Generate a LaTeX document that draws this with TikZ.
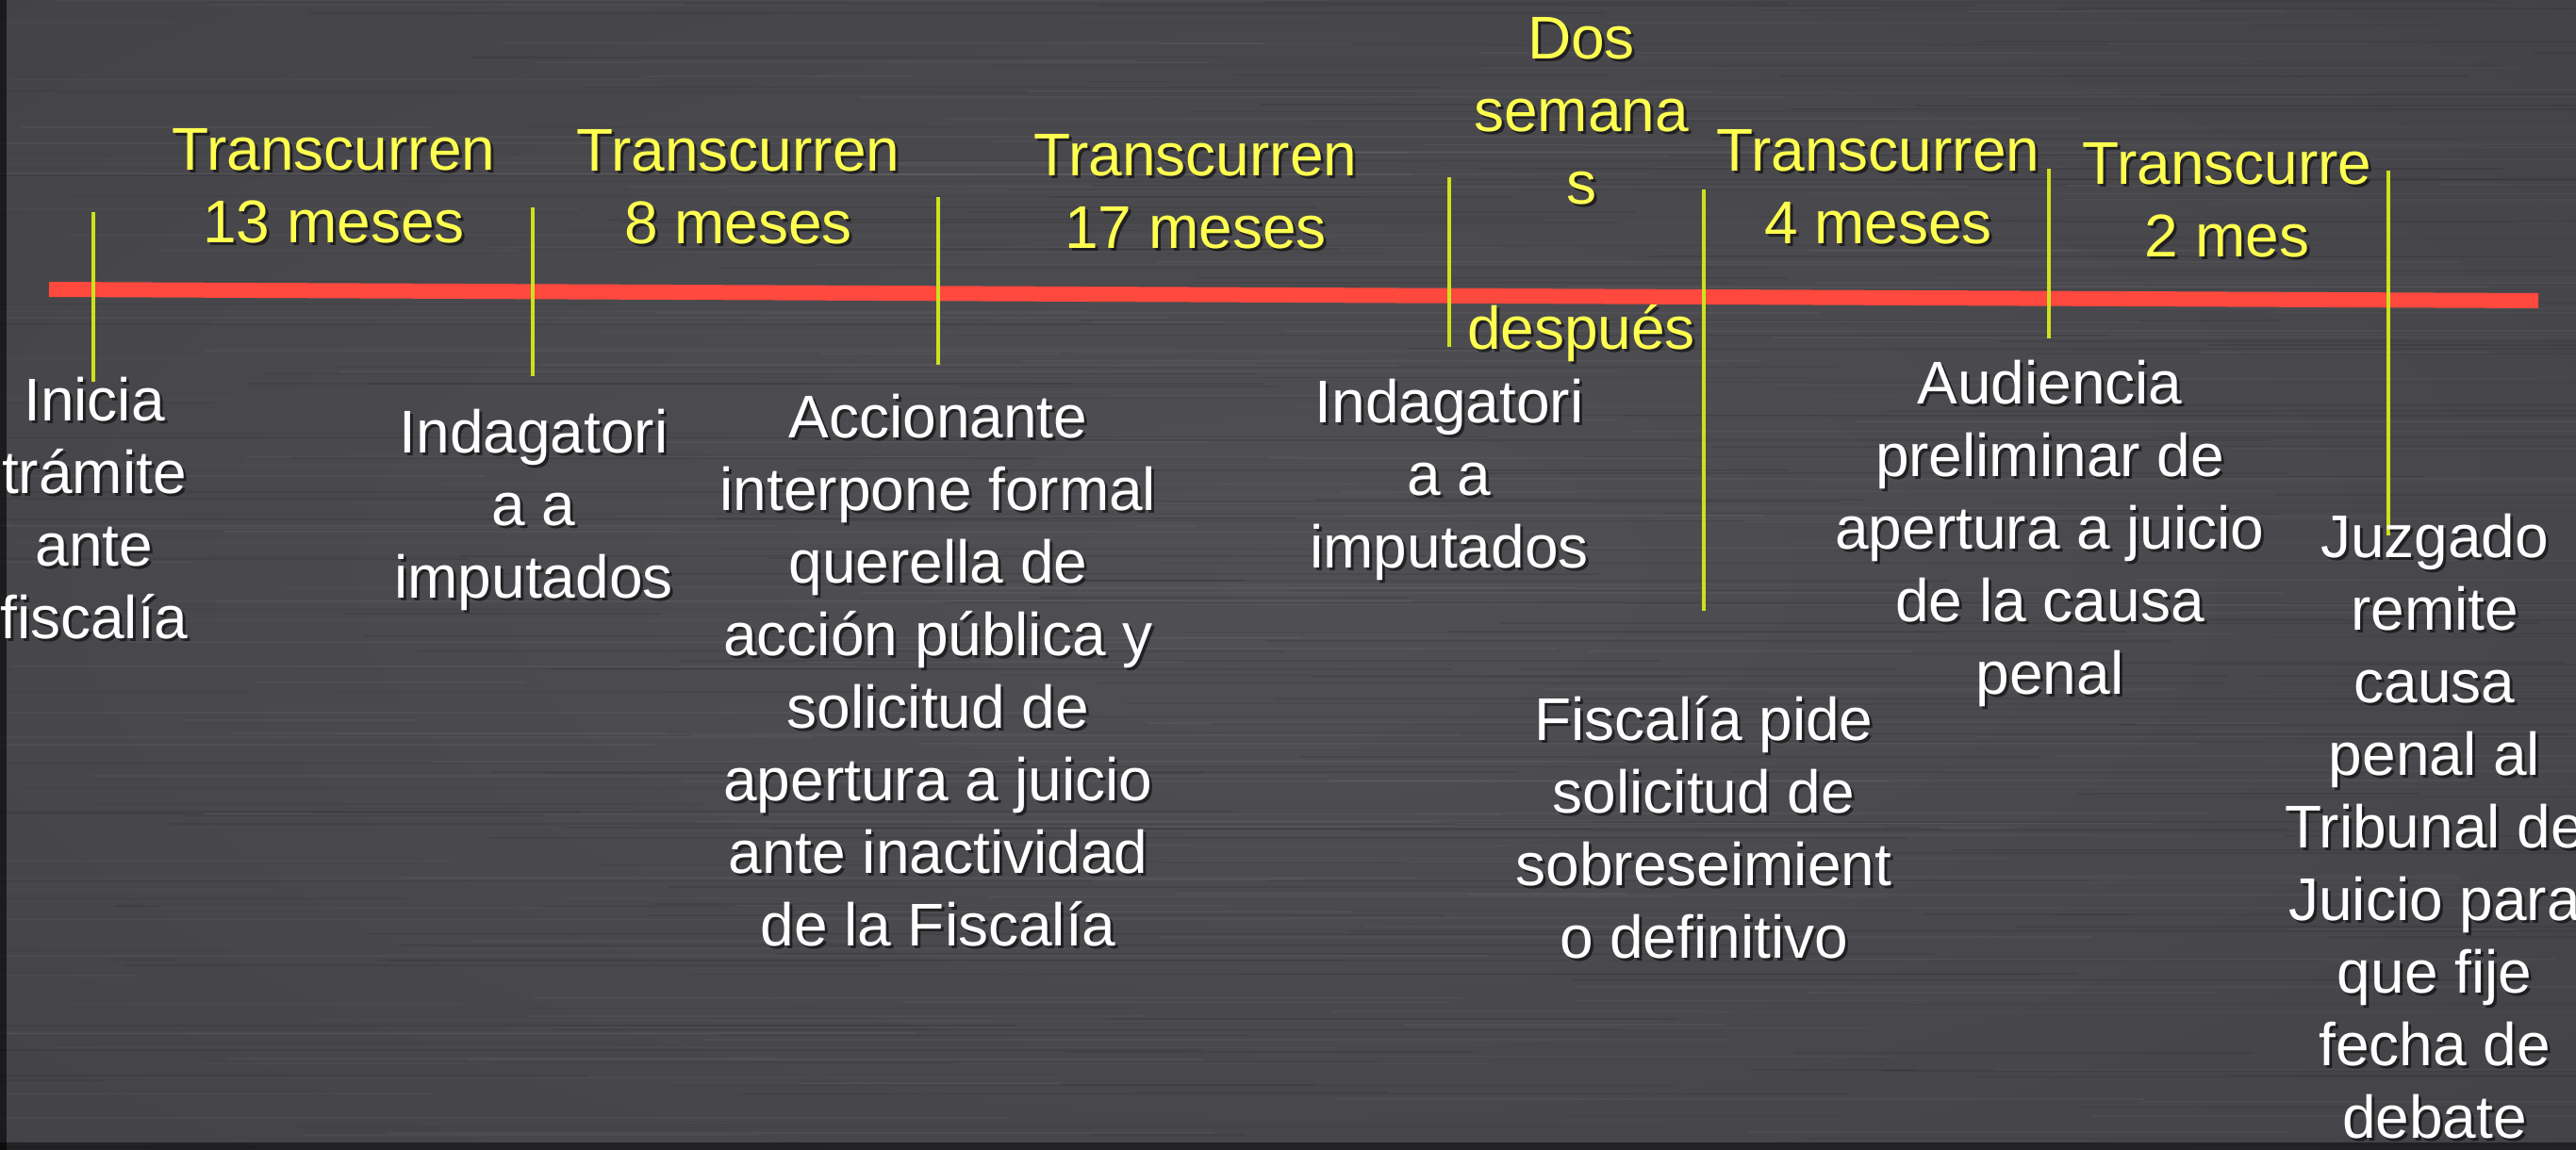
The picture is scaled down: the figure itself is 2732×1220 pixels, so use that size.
\documentclass[tikz,border=0pt]{standalone}
\usepackage{fontspec}
\setmainfont{Liberation Sans}
\definecolor{bgin}{RGB}{80,80,84}
\definecolor{bgmid}{RGB}{62,62,66}
\definecolor{bgout}{RGB}{28,28,32}
\definecolor{redline}{RGB}{255,72,62}
\definecolor{tickc}{RGB}{205,225,30}
\definecolor{yel}{RGB}{255,255,80}
\pgfdeclareradialshading{bgshade}{\pgfpoint{0bp}{0bp}}{color(0bp)=(bgin); color(50bp)=(bgmid); color(100bp)=(bgout)}
\tikzset{
  ylab/.style={anchor=base, align=center, inner sep=0pt, text=yel, font=\fontsize{64}{77}\selectfont},
  wlab/.style={anchor=base, align=center, inner sep=0pt, text=white, font=\fontsize{64}{77}\selectfont},
  shadowtxt/.style={text=black, text opacity=0.55},
  tickline/.style={draw=tickc, line width=4.5pt},
  timeline/.style={draw=redline, line width=16pt},
}
% #2 is the baseline of the LAST line of the label
\newcommand\tlabel[4]{%
  \node[#3,shadowtxt,xshift=3pt,yshift=-3pt] at #2 {#4};
  \node[#3] (#1) at #2 {#4};}
\begin{document}
\begin{tikzpicture}[x=1pt,y=-1pt]
\useasboundingbox (0,0) rectangle (2732,1220);
\clip (0,0) rectangle (2732,1220);
% background
\shade[shading=bgshade] (0,0) rectangle (2732,1220);
\pgfmathsetseed{7}
\foreach \i in {1,...,260}{
  \pgfmathsetmacro\yy{rnd*1220}
  \pgfmathsetmacro\xx{rnd*2732-300}
  \pgfmathsetmacro\ll{200+rnd*1400}
  \draw[white, opacity=0.035, line width=1.5pt] (\xx,\yy) -- ++(\ll,0);
}
\foreach \i in {1,...,260}{
  \pgfmathsetmacro\yy{rnd*1220}
  \pgfmathsetmacro\xx{rnd*2732-300}
  \pgfmathsetmacro\ll{200+rnd*1400}
  \draw[black, opacity=0.08, line width=1.5pt] (\xx,\yy) -- ++(\ll,0);
}
\fill[black, opacity=0.6] (0,0) rectangle (7,1220);
\fill[black, opacity=0.5] (0,1212) rectangle (2732,1220);
% timeline
\coordinate (tl-a) at (52,307);
\coordinate (tl-b) at (2692,319);
\draw[timeline] (tl-a) -- (tl-b);
% ticks
\coordinate (t1a) at (99,225);   \coordinate (t1b) at (99,405);
\coordinate (t2a) at (565,220);  \coordinate (t2b) at (565,399);
\coordinate (t3a) at (995,209);  \coordinate (t3b) at (995,387);
\coordinate (t4a) at (1537,188); \coordinate (t4b) at (1537,368);
\coordinate (t5a) at (1807,201); \coordinate (t5b) at (1807,648);
\coordinate (t6a) at (2173,179); \coordinate (t6b) at (2173,359);
\coordinate (t7a) at (2533,181); \coordinate (t7b) at (2533,568);
\foreach \k in {1,...,7}{\draw[tickline] (t\k a) -- (t\k b);}
% yellow labels
\tlabel{y1}{(354,257)}{ylab}{Transcurren\\13 meses}
\tlabel{y2}{(783,258)}{ylab}{Transcurren\\8 meses}
\tlabel{y3}{(1268,263)}{ylab}{Transcurren\\17 meses}
\tlabel{y4}{(1677,370)}{ylab}{Dos\\semana\\s\\\mbox{}\\después}
\tlabel{y5}{(1992,258)}{ylab}{Transcurren\\4 meses}
\tlabel{y6}{(2362,272)}{ylab}{Transcurre\\2 mes}
% white labels
\tlabel{w1}{(100,677)}{wlab}{Inicia\\trámite\\ante\\fiscalía}
\tlabel{w2}{(566,634)}{wlab}{Indagatori\\a a\\imputados}
\tlabel{w3}{(995,1003)}{wlab}{Accionante\\interpone formal\\querella de\\acción pública y\\solicitud de\\apertura a juicio\\ante inactividad\\de la Fiscalía}
\tlabel{w4}{(1537,602)}{wlab}{Indagatori\\a a\\imputados}
\tlabel{w5}{(1807,1016)}{wlab}{Fiscalía pide\\solicitud de\\sobreseimient\\o definitivo}
\tlabel{w6}{(2174,736)}{wlab}{Audiencia\\preliminar de\\apertura a juicio\\de la causa\\penal}
\tlabel{w7}{(2582,1207)}{wlab}{Juzgado\\remite\\causa\\penal al\\Tribunal de\\Juicio para\\que fije\\fecha de\\debate}
\end{tikzpicture}
\end{document}
